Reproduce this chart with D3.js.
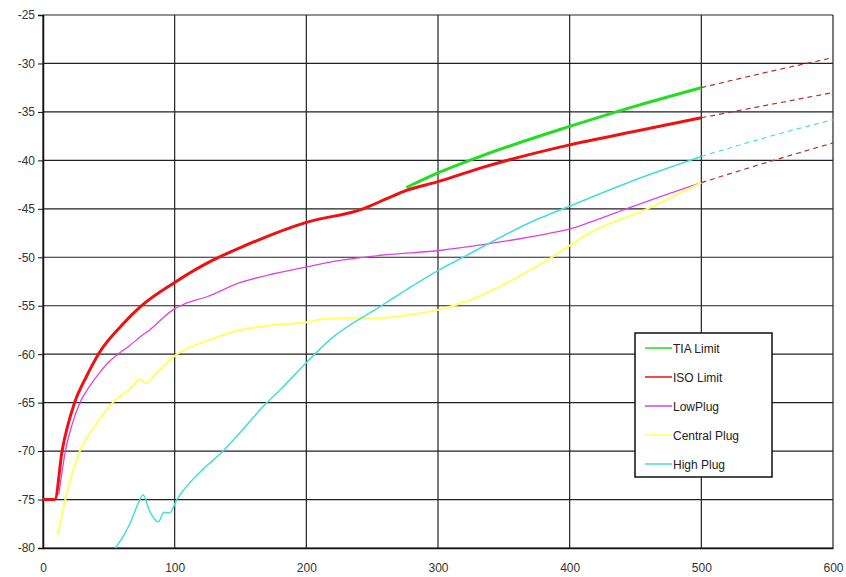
<!DOCTYPE html>
<html>
<head>
<meta charset="utf-8">
<script src="https://cdn.jsdelivr.net/npm/d3@7"></script>
<style>
  body { margin: 0; background: #fff; }
  text { font-family: "Liberation Sans", Arial, sans-serif; }
</style>
</head>
<body>
<script>
// series data, [x, dB]
const tiaLimit = [[276, -42.8], [300, -41.3], [332, -39.6], [400, -36.5], [450, -34.4], [500, -32.5]];
const isoLimit = [[0, -75], [9, -75], [14.5, -70], [24, -65], [33, -62.3], [43, -59.8], [60, -57], [74, -55.1],
                  [100, -52.6], [129, -50.3], [150, -49], [200, -46.4], [243, -45], [262, -43.9], [276, -43.1],
                  [300, -42.2], [332, -40.8], [400, -38.4], [450, -37], [500, -35.6]];
const lowPlug = [[12, -74.5], [17, -70], [22, -67.3], [28, -65], [35, -63.4], [43, -61.9], [50, -60.8],
                 [57, -60], [65, -59.2], [74, -58.2], [81, -57.5], [99, -55.4], [106, -54.9], [124, -54.1],
                 [150, -52.6], [175, -51.7], [200, -51.0], [218, -50.5], [264, -49.7], [301, -49.3],
                 [339, -48.6], [370, -47.9], [402, -47.0], [415, -46.4], [443, -45], [470, -43.7], [500, -42.3]];
const centralPlug = [[11.4, -78.6], [17, -75], [28, -70], [40, -67.3], [53, -65], [66, -63.6], [74, -62.6],
                     [78, -63.0], [86.5, -61.9], [101.7, -60], [125, -58.6], [150, -57.5], [175, -57.0],
                     [200, -56.7], [218, -56.3], [249, -56.3], [280, -55.9], [301, -55.4], [330, -54.1],
                     [357, -52.3], [383, -50.3], [400, -48.8], [415, -47.5], [459, -45], [500, -42.3]];
const highPlug = [[55, -80], [60, -79], [66, -77.5], [72, -75.5], [76, -74.5], [81, -76.2], [87.5, -77.3],
                  [92, -76.3], [96, -76.4], [101.7, -75], [119, -72.2], [136, -70.1], [147, -68.5], [168.6, -65.2],
                  [180, -63.7], [200.5, -60.8], [218, -58.5], [256, -55.1], [301, -51.3], [319, -50],
                  [375, -46.1], [395, -45], [450, -42], [500, -39.6]];
// dashed extrapolations past 500
const tiaExt = [[500, -32.5], [550, -30.9], [600, -29.4]];
const isoExt = [[500, -35.6], [550, -34.3], [600, -33.0]];
const plugExt = [[500, -42.3], [550, -40.2], [600, -38.2]];
const highExt = [[500, -39.6], [550, -37.6], [600, -35.8]];

const xTicks = [0, 100, 200, 300, 400, 500, 600];
const yTicks = [-25, -30, -35, -40, -45, -50, -55, -60, -65, -70, -75, -80];
const legendNames = ["TIA Limit", "ISO Limit", "LowPlug", "Central Plug", "High Plug"];
const legendColors = ["#22dd22", "#ee1111", "#dd44dd", "#ffff66", "#44dddd"];

const w = 846, h = 577;
const m = {top: 15, right: 13, bottom: 29, left: 43};

const svg = d3.select("body").append("svg")
  .attr("width", w).attr("height", h);

const x = d3.scaleLinear().domain([0, 600]).range([m.left, w - m.right]);
const y = d3.scaleLinear().domain([-80, -25]).range([h - m.bottom, m.top]);

// grid
svg.append("g").selectAll("line").data(yTicks).join("line")
  .attr("x1", m.left).attr("x2", w - m.right)
  .attr("y1", d => y(d)).attr("y2", d => y(d))
  .attr("stroke", "#222").attr("stroke-width", 1.2);
svg.append("g").selectAll("line").data(xTicks).join("line")
  .attr("x1", d => x(d)).attr("x2", d => x(d))
  .attr("y1", m.top).attr("y2", h - m.bottom)
  .attr("stroke", "#222").attr("stroke-width", 1.2);

// axes (plain hyphen minus like the original)
const yAxis = svg.append("g").attr("transform", `translate(${m.left},0)`)
  .call(d3.axisLeft(y).tickValues(yTicks).tickSize(5).tickPadding(3).tickFormat(d => String(d)));
const xAxis = svg.append("g").attr("transform", `translate(0,${h - m.bottom})`)
  .call(d3.axisBottom(x).tickValues(xTicks).tickSize(0).tickPadding(15).tickFormat(d => String(d)));
[yAxis, xAxis].forEach(g => {
  g.select(".domain").attr("stroke", "#111").attr("stroke-width", 1.5);
  g.selectAll("line").attr("stroke", "#111");
  g.selectAll("text").attr("font-size", 12).attr("fill", "#333")
    .attr("font-family", "Liberation Sans, Arial, sans-serif");
});

const line = d3.line().x(d => x(d[0])).y(d => y(d[1])).curve(d3.curveMonotoneX);

const plot = svg.append("g");
function drawSeries(data, color, width, dash) {
  plot.append("path").datum(data)
    .attr("d", line)
    .attr("fill", "none")
    .attr("stroke", color)
    .attr("stroke-width", width)
    .attr("stroke-dasharray", dash || null)
    .attr("stroke-linejoin", "round");
}
drawSeries(tiaLimit, "#22dd22", 3);
drawSeries(isoLimit, "#ee1111", 3);
drawSeries(lowPlug, "#dd44dd", 1.3);
drawSeries(centralPlug, "#ffff66", 2);
drawSeries(highPlug, "#44dddd", 1.5);
drawSeries(tiaExt, "#aa3333", 1.2, "5,4");
drawSeries(isoExt, "#aa3333", 1.2, "5,4");
drawSeries(plugExt, "#aa3333", 1.2, "5,4");
drawSeries(highExt, "#55dddd", 1.2, "5,4");

// legend
const lg = svg.append("g").attr("transform", "translate(635,333)");
lg.append("rect").attr("width", 137).attr("height", 144)
  .attr("fill", "#fff").attr("stroke", "#111").attr("stroke-width", 1.5);
const items = lg.selectAll("g.item").data(legendNames).join("g")
  .attr("transform", (d, i) => `translate(0,${15 + i * 29})`);
items.append("line").attr("x1", 10).attr("x2", 37).attr("y1", 0).attr("y2", 0)
  .attr("stroke", (d, i) => legendColors[i]).attr("stroke-width", 1.5);
items.append("text").attr("x", 38).attr("y", 4.5).attr("font-size", 12)
  .attr("fill", "#222").text(d => d);
</script>
</body>
</html>
